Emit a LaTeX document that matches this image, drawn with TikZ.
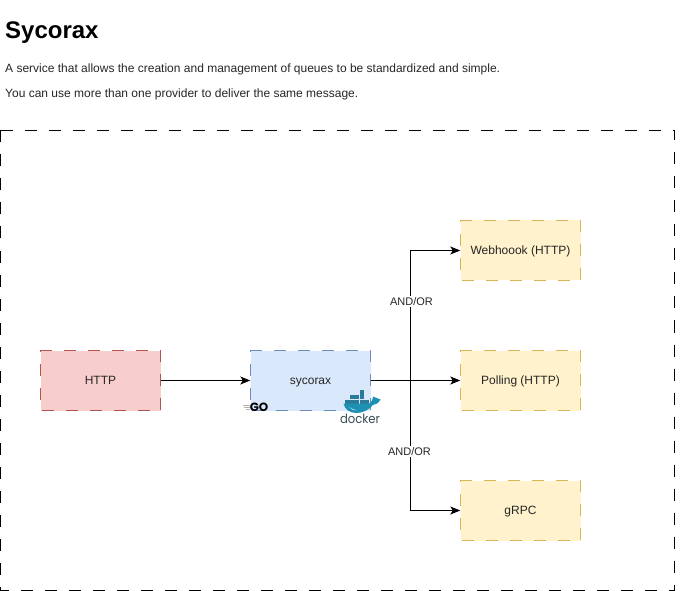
\documentclass[tikz,border=0pt]{standalone}
\usepackage{fontspec}
\usepackage{graphicx}
\setmainfont{Liberation Sans}
\newfontfamily\logofont{Poppins}
\usetikzlibrary{arrows.meta}
\definecolor{redfill}{HTML}{F8CECC}\definecolor{redline}{HTML}{B85450}
\definecolor{bluefill}{HTML}{DAE8FC}\definecolor{blueline}{HTML}{6C8EBF}
\definecolor{yellowfill}{HTML}{FFF2CC}\definecolor{yellowline}{HTML}{D6B656}
\definecolor{dockerblue}{HTML}{1D91B4}\definecolor{dockerdark}{HTML}{2A7A99}\definecolor{dockertext}{HTML}{394D54}
\tikzset{
  box/.style={minimum width=120pt,minimum height=60pt,inner sep=0pt,text height=10pt,text depth=2pt,text=black!85,font=\fontsize{12}{14}\selectfont,anchor=center},
  redbox/.style={box,fill=redfill},
  bluebox/.style={box,fill=bluefill},
  yellowbox/.style={box,fill=yellowfill},
  outline/.style={line width=1pt,dash pattern=on 12pt off 12pt},
  conn/.style={draw=black,line width=1pt,-{Stealth[length=10pt,width=8pt,inset=2.5pt]}},
  edgelabel/.style={fill=white,inner sep=1.5pt,font=\fontsize{11}{13}\selectfont,text=black!85},
  para/.style={anchor=base west,inner sep=0pt,font=\fontsize{12}{14}\selectfont,text=black!85},
  crate/.style={fill=dockerdark,draw=none}
}
\newcommand{\boxoutline}[2]{\draw[outline,draw=#2] (#1.north west) -- (#1.north east) -- (#1.south east) -- (#1.south west) -- cycle;}
\begin{document}
\begin{tikzpicture}[x=1pt,y=-1pt]
\useasboundingbox (0,0) rectangle (681,591);
\node[anchor=base west,inner sep=0pt,font=\fontsize{24}{28}\selectfont\bfseries] (title) at (5,39) {Sycorax};
\node[para] (line1) at (5,72.5) {A service that allows the creation and management of queues to be standardized and simple.};
\node[para] (line2) at (5,98) {You can use more than one provider to deliver the same message.};
\draw[outline,draw=black] (0.5,130.5) -- (674.5,130.5) -- (674.5,590.5) -- (0.5,590.5) -- cycle;
\node[redbox] (http) at (100.5,380.5) {HTTP};
\node[bluebox] (sycorax) at (310.5,380.5) {sycorax};
\node[yellowbox] (webhook) at (520.5,250.5) {Webhoook (HTTP)};
\node[yellowbox] (polling) at (520.5,380.5) {Polling (HTTP)};
\node[yellowbox] (grpc) at (520.5,510.5) {gRPC};
\boxoutline{http}{redline}
\boxoutline{sycorax}{blueline}
\boxoutline{webhook}{yellowline}
\boxoutline{polling}{yellowline}
\boxoutline{grpc}{yellowline}
\draw[conn] (http) -- (sycorax);
\draw[conn] (sycorax) -- (polling);
\draw[conn] (sycorax.east) -- (410.5,380.5) -- (410.5,250.5) -- (webhook.west);
\draw[conn] (sycorax.east) -- (410.5,380.5) -- (410.5,510.5) -- (grpc.west);
\node[edgelabel] (andor1) at (411.5,301.5) {AND/OR};
\node[edgelabel] (andor2) at (409.5,451.5) {AND/OR};
% Go logo
\draw[black!30,line width=0.8pt] (243,405.5) -- (250,405.5) (244,407.5) -- (250,407.5) (246,409.5) -- (250,409.5);
\node[anchor=center,inner sep=0pt,text=black] (go) at (259,407.2) {\resizebox{18.5pt}{8.5pt}{\logofont\bfseries GO}};
% Docker logo
\foreach \cx/\cy in {345.4/399.6,350.1/399.6,354.8/399.6,359.5/399.6,364.2/399.6,350.1/395,354.8/395,359.5/395,359.5/390.4}
  \fill[crate] (\cx,\cy) rectangle +(4.4,4.3);
\fill[dockerblue] (343.5,403.5) -- (369.5,403.5) .. controls (371.5,402) and (372.5,400) .. (373,396.5) .. controls (376,398.5) and (378,398) .. (380.5,399.5) .. controls (378.5,403.5) and (375.5,404.5) .. (373,405) .. controls (368.5,410.5) and (362,413) .. (356,413) .. controls (349,413) and (344.5,408.5) .. (343.5,403.5) -- cycle;
\fill[white!70!dockerblue] (349,407) .. controls (351,409.5) and (354,410.5) .. (357,410.5) .. controls (354,409.5) and (351,408.5) .. (349,407) -- cycle;
\node[anchor=center,inner sep=0pt,text=dockertext] (docker) at (360,418.7) {\resizebox{40pt}{9.5pt}{\logofont docker}};
\end{tikzpicture}
\end{document}
